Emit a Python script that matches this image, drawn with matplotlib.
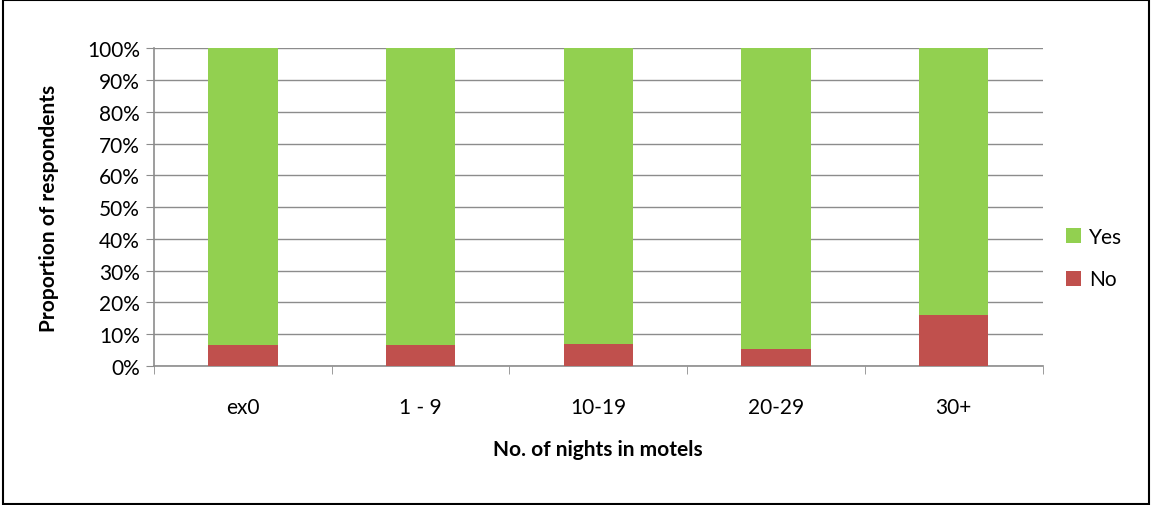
import matplotlib.pyplot as plt
from matplotlib.patches import Rectangle
from matplotlib.ticker import FuncFormatter, MultipleLocator
import numpy as np

plt.rcParams['font.family'] = ['Lato', 'DejaVu Sans']

categories = ["ex0", "1 - 9", "10-19", "20-29", "30+"]
no_pct = [6.5, 6.5, 7.0, 5.3, 16.0]
yes_pct = [100 - v for v in no_pct]

fig = plt.figure(figsize=(11.51, 5.06), dpi=100)
ax = fig.add_axes([0.1338, 0.2747, 0.772, 0.628])

x = np.arange(len(categories))
ax.bar(x, no_pct, width=0.39, color="#C0504D", label="No", zorder=3)
ax.bar(x, yes_pct, width=0.39, bottom=no_pct, color="#92D050", label="Yes", zorder=3)

ax.set_xlim(-0.5, len(categories) - 0.5)
ax.set_ylim(0, 100)
ax.yaxis.set_major_locator(MultipleLocator(10))
ax.yaxis.set_major_formatter(FuncFormatter(lambda v, p: f"{v:.0f}%"))
ax.grid(axis="y", color="#8c8c8c", linewidth=1, zorder=0)

ax.set_xticks(x)
ax.set_xticklabels(categories)
ax.set_xticks(np.arange(-0.5, len(categories)), minor=True)
ax.tick_params(axis="x", which="major", length=0, pad=22, labelsize=15)
ax.tick_params(axis="x", which="minor", length=6, color="#8c8c8c", direction="out")
ax.tick_params(axis="y", length=6, color="#8c8c8c", labelsize=15, pad=4)

for side in ["top", "right"]:
    ax.spines[side].set_visible(False)
for side in ["left", "bottom"]:
    ax.spines[side].set_color("#8c8c8c")
    ax.spines[side].set_linewidth(1.2)

ax.set_xlabel("No. of nights in motels", fontsize=15, fontweight="bold", labelpad=16)
ax.set_ylabel("Proportion of respondents", fontsize=15, fontweight="bold", labelpad=20)

handles, labels = ax.get_legend_handles_labels()
ax.legend(handles[::-1], labels[::-1], loc="center left", bbox_to_anchor=(1.005, 0.34),
          frameon=False, fontsize=15, handlelength=0.75, handleheight=0.75,
          labelspacing=1.1, handletextpad=0.35)

fig.patches.append(Rectangle((0.003, 0.002), 0.995, 0.996, transform=fig.transFigure,
                             fill=False, edgecolor="black", linewidth=1.5))

plt.savefig("out.png", dpi=100)
